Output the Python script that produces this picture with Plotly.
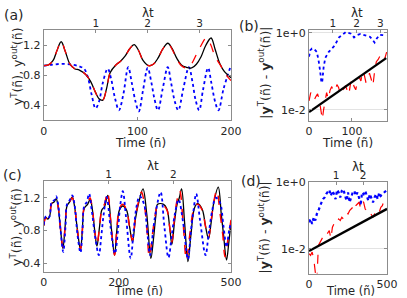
import plotly.graph_objects as go

W, H = 407, 298

# ---------------- panel (a) data ----------------
a_black_n = [0, 5, 10, 14, 18.6, 23, 28, 33, 38, 45, 50, 55, 59, 63, 67, 71, 77, 82, 87, 92, 96.5, 101, 106, 112,
             117, 122, 127, 132.5, 137, 142, 147, 152, 158, 163, 168, 173, 178.7, 183, 188, 193, 200]
a_black_y = [0.93, 0.94, 1.0, 1.13, 1.25, 1.12, 0.95, 0.89, 0.87, 0.81, 0.72, 0.58, 0.49, 0.47, 0.62, 0.84, 0.94, 0.99,
             1.06, 1.16, 1.21, 1.14, 1.0, 0.93, 0.95, 1.03, 1.15, 1.23, 1.16, 1.03, 0.94, 0.91, 0.9, 0.95, 1.05, 1.2,
             1.3, 1.15, 0.96, 0.85, 0.77]
a_red_n = [0, 5, 10, 14, 18.6, 23, 28, 33, 38, 45, 50, 55, 59, 63, 67, 71, 77, 82, 87, 92, 96.5, 101, 106, 112,
           117, 122, 127, 132.5, 137, 142, 147, 152, 158, 163, 168, 173.5, 178, 183, 189, 194, 200]
a_red_y = [0.93, 0.94, 1.0, 1.13, 1.25, 1.12, 0.95, 0.89, 0.87, 0.81, 0.72, 0.58, 0.48, 0.47, 0.62, 0.84, 0.94, 0.99,
           1.06, 1.16, 1.21, 1.14, 1.0, 0.93, 0.95, 1.03, 1.15, 1.23, 1.15, 1.02, 0.93, 0.9, 0.96, 1.08, 1.2, 1.3,
           1.22, 1.05, 0.93, 0.82, 0.73]
a_blue_n = [0, 10, 20, 30, 38, 43, 47, 51, 55.3, 59, 63, 68.3, 72, 76, 80.3, 85, 90.2, 94, 98, 101.5, 106, 111,
            115, 118, 122, 127, 132.4, 136, 140, 143.7, 149, 155, 159, 162, 166, 170, 175.5, 179, 183, 186.6, 192, 199]
a_blue_y = [0.93, 0.945, 0.955, 0.945, 0.92, 0.89, 0.78, 0.55, 0.36, 0.45, 0.7, 0.89, 0.75, 0.5, 0.335, 0.55, 0.91,
            0.7, 0.45, 0.32, 0.6, 0.9, 0.7, 0.5, 0.335, 0.62, 0.91, 0.7, 0.45, 0.335, 0.62, 0.91, 0.7, 0.48, 0.335,
            0.6, 0.9, 0.7, 0.45, 0.335, 0.62, 0.9]

# ---------------- panel (b) data ----------------
b_blue_n = [0, 3, 7, 12, 18, 22, 26, 29, 31, 34, 38, 42, 46, 50, 55, 60, 65, 70, 78, 86, 92, 98, 105, 112, 120,
            127, 135, 142, 148, 153, 158, 165, 172, 180]
b_blue_y = [0.24, 0.355, 0.39, 0.38, 0.32, 0.2, 0.1, 0.05, 0.056, 0.126, 0.224, 0.28, 0.32, 0.355, 0.4, 0.47, 0.6,
            0.76, 0.89, 1.05, 1.0, 0.95, 0.76, 0.87, 0.93, 0.89, 0.85, 0.79, 0.66, 0.56, 0.71, 0.89, 0.87, 0.85]
b_red_n = [0, 4, 8, 12, 16, 20, 24, 27, 31, 34, 37, 41, 45, 49, 53, 57, 61, 65, 69, 73, 77, 81, 85, 89, 93, 97,
           101, 105, 109, 113, 117, 121, 125, 129, 133, 137, 141, 145, 149, 153, 157, 161, 165, 169, 173, 177, 181]
b_red_y = [0.017, 0.028, 0.025, 0.018, 0.022, 0.026, 0.018, 0.011, 0.0056, 0.010, 0.018, 0.028, 0.019, 0.032,
           0.040, 0.030, 0.032, 0.045, 0.038, 0.025, 0.032, 0.035, 0.042, 0.032, 0.025, 0.050, 0.063, 0.040, 0.033,
           0.056, 0.071, 0.056, 0.100, 0.079, 0.050, 0.063, 0.089, 0.063, 0.042, 0.100, 0.178, 0.200, 0.251, 0.295,
           0.251, 0.219, 0.316]
b_black_n = [0, 180]
b_black_y = [0.0087, 0.22]

# ---------------- panel (c) data ----------------
c_black_n = [0, 5, 11, 16, 21, 28, 33, 38, 44, 51, 57, 62, 69, 76, 82, 90, 98, 103, 108, 117, 124, 130, 136, 142,
             149, 155, 162, 171, 180, 189, 195, 202, 211, 221, 229, 237, 245, 254, 265, 275, 286, 293, 299, 304,
             320, 329, 336, 342, 349, 356, 362, 368, 376, 385, 393, 402, 410, 423, 432, 440, 447, 454, 466, 474,
             480, 488, 494, 500]
c_black_y = [0.86, 0.96, 0.94, 0.98, 1.13, 1.15, 1.19, 1.1, 0.85, 0.58, 0.85, 1.1, 1.15, 1.21, 1.1, 0.8, 0.56, 0.8,
             1.07, 1.12, 1.18, 1.05, 0.8, 0.61, 0.85, 1.05, 1.09, 1.23, 0.85, 0.5, 0.8, 1.05, 1.1, 1.05, 0.85, 0.66,
             0.95, 1.15, 1.31, 1.0, 0.46, 0.7, 0.97, 1.12, 1.12, 1.06, 0.85, 0.63, 0.9, 1.12, 1.2, 1.31, 0.9, 0.42,
             0.75, 1.07, 1.13, 1.06, 0.85, 0.7, 0.9, 1.14, 1.33, 1.0, 0.75, 0.44, 0.65, 0.9]
c_red_n = [0, 5, 11, 16, 21, 28, 33, 38, 44, 51, 57, 62, 69, 76, 82, 90, 98, 103, 108, 117, 123.5, 130, 136, 142,
           149, 155, 162, 170, 180, 189, 195, 202, 211, 221, 229, 237, 245, 254, 261, 272, 282, 290, 298, 304, 320,
           329, 336, 342, 349, 355, 363, 372, 381, 390, 400, 410, 423, 432, 440, 447, 454, 462, 471, 478, 484, 492,
           500]
c_red_y = [0.86, 0.95, 0.94, 0.98, 1.13, 1.15, 1.17, 1.1, 0.85, 0.6, 0.85, 1.1, 1.15, 1.2, 1.1, 0.8, 0.57, 0.8,
           1.08, 1.13, 1.2, 1.05, 0.8, 0.63, 0.85, 1.06, 1.12, 1.27, 0.85, 0.5, 0.8, 1.07, 1.12, 1.05, 0.85, 0.68,
           0.97, 1.17, 1.27, 1.0, 0.48, 0.75, 1.0, 1.1, 1.1, 1.05, 0.85, 0.66, 0.95, 1.15, 1.29, 0.9, 0.44, 0.75,
           1.05, 1.12, 1.05, 0.85, 0.72, 0.92, 1.15, 1.29, 1.0, 0.75, 0.48, 0.7, 0.93]
c_blue_n = [0, 5, 11, 16, 21, 28, 33, 38, 45, 52, 58, 62, 69, 76, 82, 90, 98, 103, 108, 115, 121, 128, 138, 147,
            154, 160, 168, 178, 190, 198, 204, 211, 220, 232, 240, 248, 256, 268, 276, 284, 292, 300, 312, 322, 333,
            342, 350, 360, 372, 385, 393, 400, 407, 418, 432, 440, 450, 459, 470, 480, 488, 495, 500]
c_blue_y = [0.87, 0.97, 0.95, 0.98, 1.15, 1.17, 1.22, 1.13, 0.8, 0.54, 0.85, 1.12, 1.17, 1.23, 1.12, 0.75, 0.53,
            0.78, 1.1, 1.15, 1.25, 1.05, 0.7, 0.5, 0.75, 1.0, 1.21, 0.85, 0.52, 0.8, 1.1, 1.28, 0.95, 0.46, 0.8, 1.1,
            1.22, 1.12, 0.8, 0.5, 0.8, 1.05, 1.27, 0.85, 0.47, 0.75, 1.0, 1.18, 0.9, 0.45, 0.8, 1.05, 1.25, 0.9, 0.5,
            0.75, 1.05, 1.2, 1.15, 0.85, 0.6, 0.8, 0.9]

# ---------------- panel (d) data ----------------
d_n = list(range(0, 501, 10))
d_blue_y = [0.063, 0.079, 0.056, 0.089, 0.071, 0.112, 0.141, 0.200, 0.251, 0.316, 0.355, 0.447, 0.501, 0.603,
            0.398, 0.562, 0.447, 0.316, 0.603, 0.501, 0.355, 0.562, 0.631, 0.447, 0.282, 0.501, 0.251, 0.355, 0.501,
            0.562, 0.398, 0.501, 0.355, 0.200, 0.501, 0.447, 0.562, 0.398, 0.282, 0.447, 0.316, 0.251, 0.355, 0.447,
            0.316, 0.501, 0.398, 0.447, 0.501, 0.562, 0.603]
d_red_y = [0.0071, 0.0063, 0.0079, 0.0050, 0.0020, 0.0010, 0.0126, 0.0158, 0.0178, 0.0251, 0.0282, 0.0251, 0.0316,
           0.0355, 0.0200, 0.0447, 0.0562, 0.0501, 0.0631, 0.0794, 0.0708, 0.0891, 0.0794, 0.112, 0.126, 0.112,
           0.141, 0.158, 0.178, 0.141, 0.200, 0.224, 0.251, 0.178, 0.282, 0.251, 0.158, 0.141, 0.112, 0.126, 0.100,
           0.0891, 0.112, 0.100, 0.141, 0.126, 0.178, 0.200, 0.282, 0.355, 0.398]
d_black_n = [0, 500]
d_black_y = [0.0085, 0.16]

# top-axis (lambda t) tick labels
top_ticks_ab = [1, 2, 3]
top_ticks_cd = [1, 2]
n_per_lt_ab = 55.5
n_per_lt_cd = 173.0

TXT = "#262626"
AX = "#8c8c8c"
FONT = "DejaVu Sans"

fig = go.Figure()

def add(x, y, xa, ya, color, dash, width, shape="linear"):
    fig.add_trace(go.Scatter(x=x, y=y, xaxis=xa, yaxis=ya, mode="lines",
                             line=dict(color=color, dash=dash, width=width, shape=shape),
                             showlegend=False, hoverinfo="skip"))

add(a_blue_n, a_blue_y, "x", "y", "#0000ff", "dot", 1.8, "spline")
add(a_black_n, a_black_y, "x", "y", "#000000", "solid", 1.3, "spline")
add(a_red_n, a_red_y, "x", "y", "#ff0000", "dash", 1.3, "spline")

add(b_blue_n, b_blue_y, "x2", "y2", "#0000ff", "dot", 1.8)
add(b_red_n, b_red_y, "x2", "y2", "#ff0000", "dash", 1.2)
add(b_black_n, b_black_y, "x2", "y2", "#000000", "solid", 2.4)

add(c_black_n, c_black_y, "x3", "y3", "#000000", "solid", 1.3, "spline")
add(c_red_n, c_red_y, "x3", "y3", "#ff0000", "dash", 1.5, "spline")
add(c_blue_n, c_blue_y, "x3", "y3", "#0000ff", "dot", 1.8, "spline")

add(d_n, d_blue_y, "x4", "y4", "#0000ff", "dot", 2.2)
add(d_n, d_red_y, "x4", "y4", "#ff0000", "dash", 1.2)
add(d_black_n, d_black_y, "x4", "y4", "#000000", "solid", 2.4)

# dummy traces for the top axes
for xa, ya in [("x5", "y"), ("x6", "y2"), ("x7", "y3"), ("x8", "y4")]:
    fig.add_trace(go.Scatter(x=[None], y=[None], xaxis=xa, yaxis=ya, showlegend=False, hoverinfo="skip"))

def px_x(a, b):
    return [a / W, b / W]

def px_y(top, bot):
    return [1 - bot / H, 1 - top / H]

tf = dict(family=FONT, size=11, color=TXT)
tf_top = dict(family=FONT, size=10.5, color=TXT)
common_x = dict(showline=True, linecolor=AX, linewidth=1, mirror=True, ticks="inside", ticklen=3,
                tickcolor=AX, tickfont=tf, showgrid=False, zeroline=False)
common_y = dict(showline=True, linecolor=AX, linewidth=1, mirror="ticks", ticks="inside", ticklen=3,
                tickcolor=AX, tickfont=tf, showgrid=False, zeroline=False)
top_x = dict(side="top", ticks="inside", ticklen=3, tickcolor=AX, tickfont=tf_top, showgrid=False,
             zeroline=False, showline=False)

dom_xl = px_x(41.3, 235.7)
dom_xr = px_x(316.7, 397.7)

fig.update_layout(
    width=W, height=H, margin=dict(l=0, r=0, t=0, b=0),
    paper_bgcolor="white", plot_bgcolor="white",
    font=dict(family=FONT, color=TXT),
    xaxis=dict(domain=dom_xl, anchor="y", range=[0, 200], tickvals=[0, 100, 200], **common_x),
    yaxis=dict(domain=px_y(25, 116.7), anchor="x", range=[0.2, 1.4], tickvals=[0.4, 0.8, 1.2],
               ticktext=["0.4", "0.8", "1.2"], **common_y),
    xaxis2=dict(domain=dom_xr, anchor="y2", range=[0, 182], tickvals=[0, 100], **common_x),
    yaxis2=dict(domain=px_y(25, 117.3), anchor="x2", type="log", range=[-2.29, 0.06],
                tickvals=[0.01, 1], ticktext=["1e-2", "1e+0"],
                **{**common_y, "showgrid": True, "gridcolor": "#e3e3e3"}),
    xaxis3=dict(domain=dom_xl, anchor="y3", range=[0, 500], tickvals=[0, 200, 500], **common_x),
    yaxis3=dict(domain=px_y(179, 271), anchor="x3", range=[0.3, 1.4], tickvals=[0.4, 0.8, 1.2],
                ticktext=["0.4", "0.8", "1.2"], **common_y),
    xaxis4=dict(domain=dom_xr, anchor="y4", range=[0, 500], tickvals=[0, 500], **common_x),
    yaxis4=dict(domain=px_y(180, 273), anchor="x4", type="log", range=[-2.75, 0.005],
                tickvals=[0.01, 1], ticktext=["1e-2", "1e+0"],
                **{**common_y, "showgrid": True, "gridcolor": "#e3e3e3"}),
    xaxis5=dict(overlaying="x", anchor="y", range=[0, 200 / n_per_lt_ab], tickvals=top_ticks_ab, **top_x),
    xaxis6=dict(overlaying="x2", anchor="y2", range=[0, 182 / n_per_lt_ab], tickvals=top_ticks_ab, **top_x),
    xaxis7=dict(overlaying="x3", anchor="y3", range=[0, 500 / n_per_lt_cd], tickvals=top_ticks_cd, **top_x),
    xaxis8=dict(overlaying="x4", anchor="y4", range=[0, 500 / n_per_lt_cd], tickvals=top_ticks_cd, **top_x),
)

def ann(text, x, y, size=13, angle=0):
    fig.add_annotation(text=text, x=x / W, y=1 - y / H, xref="paper", yref="paper", showarrow=False,
                       textangle=angle, font=dict(family=FONT, size=size, color=TXT),
                       xanchor="center", yanchor="middle", borderpad=0)

# panel labels
ann("(a)", 10, 9, 14)
ann("(b)", 254, 20, 14)
ann("(c)", 9, 172, 14)
ann("(d)", 256, 179, 14)
# lambda t titles
ann("λt", 150, 7, 12)
ann("λt", 366, 7, 12)
ann("λt", 155, 163.5, 12)
ann("λt", 368, 164, 12)
# x titles
ann("Time (n̄)", 142, 140, 12)
ann("Time (ñ)", 357, 140, 12)
ann("Time (n̄)", 140, 291, 11.5)
ann("Time (ñ)", 360, 291, 11.5)
# y titles
ann("y<sup>T</sup>(ñ), y<sup>out</sup>(ñ)", 13, 62, 12.5, -90)
ann("|<b>y</b><sup>T</sup>(ñ) - <b>y</b><sup>out</sup>(ñ)|", 270, 68, 12.5, -90)
ann("y<sup>T</sup>(ñ), y<sup>out</sup>(ñ)", 13, 226, 12.5, -90)
ann("|<b>y</b><sup>T</sup>(ñ) - <b>y</b><sup>out</sup>(ñ)|", 270, 226, 12.5, -90)

# static plot (no modebar); remove the browser's default page margin
fig.write_html("out.html", config={"staticPlot": True, "displayModeBar": False},
               post_script="document.body.style.margin='0px';document.body.style.padding='0px';")
